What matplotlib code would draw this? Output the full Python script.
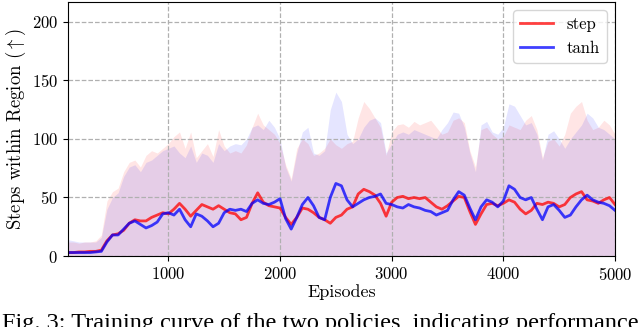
import numpy as np
import matplotlib
matplotlib.use("Agg")
import matplotlib.pyplot as plt

episodes = np.arange(100, 5001, 50)

step_mean = [3, 3, 3.5, 3.5, 4, 4, 5, 13, 18, 19, 22, 28, 31, 30, 30, 33, 35, 37, 36, 40,
             45, 40, 34, 39, 44, 42, 40, 43, 40, 37, 36, 31, 33, 45, 54, 46, 43, 42, 41, 33,
             27, 33, 41, 40, 37, 33, 31, 28, 33, 35, 40, 42, 53, 57, 55, 52, 45, 34, 46, 50,
             51, 49, 50, 49, 50, 46, 42, 40, 43, 47, 51, 50, 38, 27, 36, 44, 45, 43, 45, 48,
             46, 40, 36, 39, 45, 44, 46, 45, 42, 44, 50, 53, 55, 48, 47, 45, 48, 50, 44]
tanh_mean = [3, 3, 3, 3, 3, 3.5, 4, 12, 18, 18, 23, 28, 30, 27, 24, 26, 29, 36, 37, 35,
             40, 31, 25, 36, 34, 30, 25, 28, 37, 40, 39, 40, 38, 45, 48, 45, 44, 46, 49, 32,
             23, 33, 44, 50, 43, 33, 31, 50, 62, 60, 48, 42, 45, 48, 50, 51, 53, 45, 44, 42,
             41, 44, 42, 41, 39, 38, 35, 37, 39, 48, 55, 52, 41, 31, 42, 48, 46, 42, 47, 60,
             57, 50, 48, 50, 40, 31, 42, 44, 39, 33, 35, 42, 48, 52, 48, 46, 45, 43, 39]

step_upper = [12, 12, 11, 12, 12, 13, 18, 47, 55, 58, 72, 80, 82, 76, 86, 90, 88, 92, 96, 102,
              106, 92, 106, 84, 90, 96, 85, 108, 94, 88, 90, 88, 95, 110, 122, 112, 108, 104, 96, 78,
              66, 92, 100, 96, 86, 88, 92, 100, 95, 92, 96, 98, 118, 132, 126, 118, 110, 86, 106, 112,
              113, 110, 115, 112, 114, 116, 110, 104, 106, 116, 118, 114, 90, 76, 108, 110, 104, 100, 102, 112,
              110, 108, 116, 120, 108, 84, 98, 100, 94, 104, 122, 128, 132, 116, 108, 110, 116, 112, 104]
tanh_upper = [14, 13, 12, 12, 12, 12, 16, 40, 50, 54, 68, 76, 78, 72, 80, 82, 86, 90, 92, 94,
              88, 84, 94, 80, 88, 86, 80, 96, 90, 94, 96, 95, 100, 110, 112, 108, 116, 110, 100, 76,
              64, 88, 106, 110, 88, 86, 90, 125, 140, 132, 104, 96, 100, 110, 116, 118, 114, 88, 96, 104,
              106, 104, 108, 106, 104, 102, 100, 108, 114, 123, 122, 110, 88, 72, 112, 115, 106, 104, 110, 130,
              128, 120, 112, 114, 104, 82, 104, 107, 100, 92, 100, 106, 112, 122, 118, 110, 108, 104, 100]

xticks = [1000, 2000, 3000, 4000, 5000]
yticks = [0, 50, 100, 150, 200]

plt.rcParams["font.family"] = "cmr10"
plt.rcParams["mathtext.fontset"] = "cm"
plt.rcParams["axes.formatter.use_mathtext"] = True
plt.rcParams["font.size"] = 12

fig = plt.figure(figsize=(6.4, 3.27), dpi=100)
ax = fig.add_axes([0.106, 0.217, 0.855, 0.777])

ax.fill_between(episodes, 0, step_upper, color="red", alpha=0.1, linewidth=0)
ax.fill_between(episodes, 0, tanh_upper, color="blue", alpha=0.1, linewidth=0)
ax.plot(episodes, step_mean, color="red", alpha=0.75, linewidth=2, label="step")
ax.plot(episodes, tanh_mean, color="blue", alpha=0.75, linewidth=2, label="tanh")

ax.set_xlim(100, 5000)
ax.set_ylim(0, 217)
ax.set_xticks(xticks)
ax.set_yticks(yticks)
ax.grid(True, linestyle="--", color="#b0b0b0", linewidth=0.9)
ax.set_xlabel("Episodes", fontsize=13, labelpad=1)
ax.set_ylabel(r"Steps within Region ($\uparrow$)", fontsize=13.5, labelpad=3)
ax.legend(loc="upper right", fontsize=12)

fig.text(0.003, -0.006, "Fig. 3: Training curve of the two policies, indicating performance",
         family="Liberation Serif", fontsize=17.5, va="baseline", ha="left")

fig.savefig("out.png", dpi=100)
